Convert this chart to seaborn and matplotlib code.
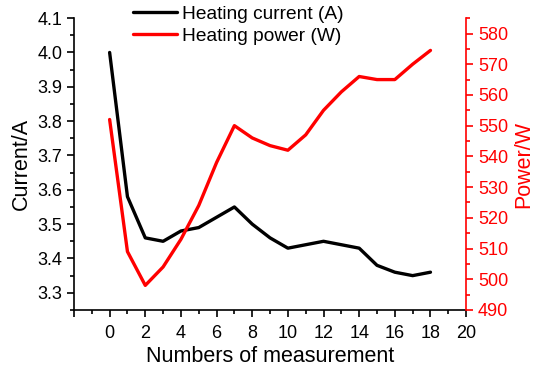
import numpy as np
import pandas as pd
import matplotlib
matplotlib.use("Agg")
import matplotlib.pyplot as plt
import seaborn as sns
from matplotlib.ticker import MultipleLocator, FormatStrFormatter

measurement = list(range(19))
current = [4.00, 3.58, 3.46, 3.45, 3.48, 3.49, 3.52, 3.55, 3.50, 3.46,
           3.43, 3.44, 3.45, 3.44, 3.43, 3.38, 3.36, 3.35, 3.36]
power = [552, 509, 498, 504, 513, 524, 538, 550, 546, 543.5,
         542, 547, 555, 561, 566, 565, 565, 570, 574.5]

df = pd.DataFrame({"n": measurement, "current": current, "power": power})

sns.set_style("ticks")
plt.rcParams["font.family"] = ["Liberation Sans", "DejaVu Sans"]
plt.rcParams["text.color"] = "black"
plt.rcParams["axes.labelcolor"] = "black"

fig = plt.figure(figsize=(5.5, 3.78), dpi=100)
ax = fig.add_axes([0.1345, 0.18, 0.713, 0.772])
ax2 = ax.twinx()

sns.lineplot(data=df, x="n", y="current", ax=ax, color="black",
             linewidth=2.4, label="Heating current (A)", legend=False)
sns.lineplot(data=df, x="n", y="power", ax=ax2, color="red",
             linewidth=2.4, label="Heating power (W)", legend=False)

ax.set_xlim(-2, 20)
ax.set_ylim(3.25, 4.1)
ax2.set_ylim(490, 585)

ax.set_xticks(range(-2, 21, 2))
ax.set_xticklabels([""] + [str(v) for v in range(0, 21, 2)])
ax.xaxis.set_minor_locator(MultipleLocator(1))
ax.yaxis.set_major_locator(MultipleLocator(0.1))
ax.yaxis.set_minor_locator(MultipleLocator(0.05))
ax.yaxis.set_major_formatter(FormatStrFormatter("%.1f"))
ax2.yaxis.set_major_locator(MultipleLocator(10))
ax2.yaxis.set_minor_locator(MultipleLocator(5))

for a in (ax, ax2):
    a.spines["top"].set_visible(False)
ax2.spines["left"].set_visible(False)
ax2.spines["bottom"].set_visible(False)
ax.spines["right"].set_visible(False)
ax2.spines["right"].set_color("red")
for sp in ("left", "bottom"):
    ax.spines[sp].set_linewidth(1.2)
    ax.spines[sp].set_color("black")
ax2.spines["right"].set_linewidth(1.2)

ax.tick_params(axis="both", which="major", labelsize=13, length=5,
               width=1.2, direction="out", colors="black")
ax.tick_params(axis="x", which="major", pad=6)
ax.tick_params(axis="both", which="minor", length=3, width=1.2,
               direction="out", colors="black")
ax2.tick_params(axis="y", which="major", labelsize=13, length=5,
                width=1.2, colors="red")
ax2.tick_params(axis="y", which="minor", length=3, width=1.2,
                colors="red")

ax.set_xlabel("Numbers of measurement", fontsize=15.5, labelpad=3)
ax.set_ylabel("Current/A", fontsize=15.5, labelpad=4)
ax2.set_ylabel("Power/W", fontsize=15.5, color="red", labelpad=4)

h1, l1 = ax.get_legend_handles_labels()
h2, l2 = ax2.get_legend_handles_labels()
ax.legend(h1 + h2, l1 + l2, loc="upper left", bbox_to_anchor=(0.13, 1.07),
          frameon=False, fontsize=13.8, handlelength=2.3,
          handletextpad=0.3, labelspacing=0.25, borderaxespad=0)

fig.savefig("out.png", dpi=100)
